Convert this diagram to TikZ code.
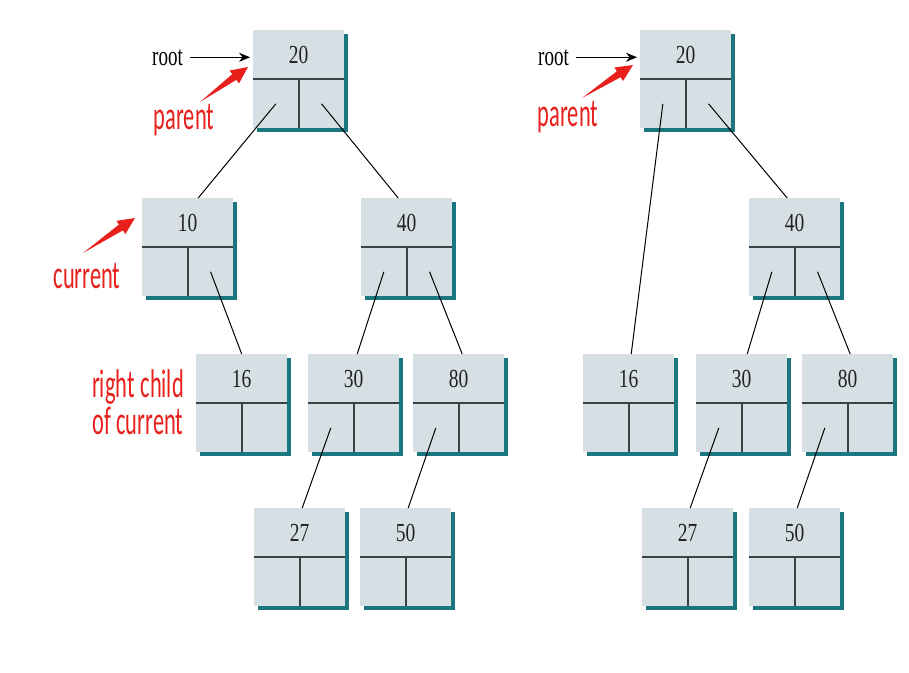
\documentclass[tikz,border=0pt]{standalone}
\usepackage{fontspec}
\usetikzlibrary{calc,shadows,arrows.meta}
\newfontfamily\numfont[FakeStretch=0.75]{Liberation Serif}
\newfontfamily\rootfont[FakeStretch=0.68]{Liberation Serif}
\newfontfamily\redfont[FakeStretch=0.56]{Carlito}
\definecolor{boxfill}{RGB}{214,223,228}
\definecolor{shadowc}{RGB}{27,118,128}
\definecolor{divc}{RGB}{58,66,70}
\definecolor{redc}{RGB}{232,32,28}
\definecolor{numc}{RGB}{34,34,34}
\tikzset{
  bbox/.style={rectangle, draw=none, fill=boxfill, minimum width=91pt, minimum height=98pt, inner sep=0pt,
    general shadow={fill=shadowc, shadow xshift=3.5pt, shadow yshift=-3.5pt}},
  divl/.style={draw=divc, line width=1.6pt},
  numl/.style={inner sep=0pt, text=numc, font=\numfont\fontsize{26}{26}\selectfont},
  conn/.style={draw=black, line width=1pt},
  rootl/.style={inner sep=0pt, text=black, font=\rootfont\fontsize{28}{28}\selectfont},
  rootarr/.style={draw=black, line width=1.3pt, -{Stealth[length=11pt,width=9pt]}},
  redl/.style={inner sep=0pt, text=redc, font=\redfont\fontsize{40}{40}\selectfont},
}
\newcommand\tbox[4]{%
  \node[bbox,anchor=north west] (#1) at (#2,#3) {};
  \draw[divl] (#1.west) -- (#1.east) (#1.center) -- (#1.south);
  \node[numl] (#1n) at ($(#1.north)!0.5!(#1.center)$) {#4};
  \coordinate (#1L) at ($(#1.center)!0.5!(#1.south west)$);
  \coordinate (#1R) at ($(#1.center)!0.5!(#1.south east)$);}
\newcommand\redarrow[3]{%
  \coordinate (#1t) at #2;
  \coordinate (#1p) at #3;
  \coordinate (#1h) at ($(#1p)!17pt!(#1t)$);
  \fill[redc] (#1t) -- ($(#1h)!3.5pt!90:(#1p)$) -- ($(#1h)!8pt!90:(#1p)$) -- (#1p)
    -- ($(#1h)!8pt!-90:(#1p)$) -- ($(#1h)!3.5pt!-90:(#1p)$) -- cycle;}
\begin{document}
\begin{tikzpicture}[x=1pt,y=-1pt]
\fill[white] (0,0) rectangle (909,672);
\useasboundingbox (0,0) rectangle (909,672);
% left tree
\tbox{l20}{253}{30}{20}
\tbox{l10}{142}{198}{10}
\tbox{l40}{361}{198}{40}
\tbox{l16}{196}{354}{16}
\tbox{l30}{308}{354}{30}
\tbox{l80}{413}{354}{80}
\tbox{l27}{254}{508}{27}
\tbox{l50}{360}{508}{50}
% right tree
\tbox{r20}{640}{30}{20}
\tbox{r40}{749}{198}{40}
\tbox{r16}{583}{354}{16}
\tbox{r30}{696}{354}{30}
\tbox{r80}{802}{354}{80}
\tbox{r27}{642}{508}{27}
\tbox{r50}{749}{508}{50}
% connectors left
\draw[conn] (l20L) -- ([xshift=10.5pt]l10.north);
\draw[conn] (l20R) -- ([xshift=-8.5pt]l40.north);
\draw[conn] (l10R) -- (l16.north);
\draw[conn] (l40L) -- ([xshift=3.5pt]l30.north);
\draw[conn] (l40R) -- ([xshift=3.5pt]l80.north);
\draw[conn] (l30L) -- ([xshift=2.5pt]l27.north);
\draw[conn] (l80L) -- ([xshift=2.5pt]l50.north);
% connectors right
\draw[conn] (r20L) -- ([xshift=2.5pt]r16.north);
\draw[conn] (r20R) -- ([xshift=-7.5pt]r40.north);
\draw[conn] (r40L) -- ([xshift=5.5pt]r30.north);
\draw[conn] (r40R) -- ([xshift=2.5pt]r80.north);
\draw[conn] (r30L) -- ([xshift=2.5pt]r27.north);
\draw[conn] (r80L) -- ([xshift=2.5pt]r50.north);
% root labels
\node[rootl, anchor=base west] (rootA) at (152,65) {root};
\draw[rootarr] ([xshift=7pt]rootA.east) -- ([xshift=-3pt]l20.west |- rootA.east);
\node[rootl, anchor=base west] (rootB) at (538,65) {root};
\draw[rootarr] ([xshift=7pt]rootB.east) -- ([xshift=-3pt]r20.west |- rootB.east);
% red labels
\node[redl, anchor=base] (parA) at (184,129) {parent};
\node[redl, anchor=base] (parB) at (568,126) {parent};
\node[redl, anchor=base] (curA) at (87,288) {current};
\node[redl, anchor=base] (rc1) at (138,397) {right\hspace{6pt}child};
\node[redl, anchor=base] (rc2) at (138,434) {of current};
% red arrows
\redarrow{pa}{(200,102)}{(248,67)}
\redarrow{pb}{(582,98)}{(633,65)}
\redarrow{ca}{(83,253)}{(135,218)}
\end{tikzpicture}
\end{document}
